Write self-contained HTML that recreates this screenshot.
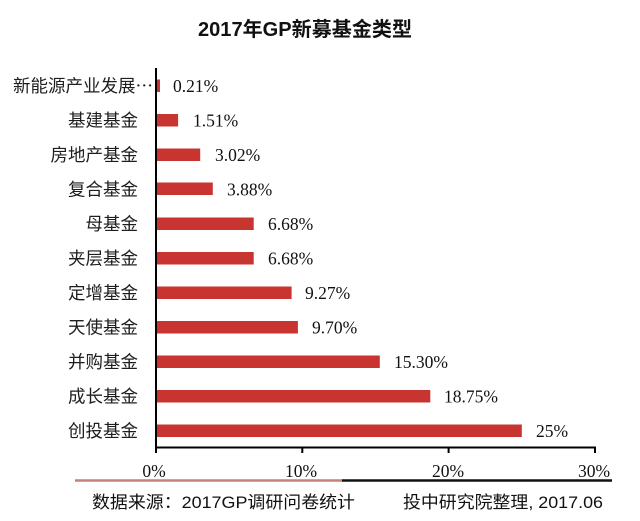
<!DOCTYPE html>
<html>
<head>
<meta charset="utf-8">
<style>
  html, body { margin:0; padding:0; background:#ffffff; }
  svg { display:block; }
  .cat { font-family: "Noto Sans CJK SC", "WenQuanYi Zen Hei", sans-serif; font-size:17.5px; fill:#1e1e1e; }
  .val { font-family: "Liberation Serif", serif; font-size:17.5px; fill:#111; }
  .tick { font-family: "Liberation Serif", serif; font-size:17.5px; fill:#111; }
  .title { font-family: "Liberation Sans", "Noto Sans CJK SC", sans-serif; font-size:20px; font-weight:bold; fill:#111; }
  .foot { font-family: "Liberation Sans", "Noto Sans CJK SC", sans-serif; font-size:17px; fill:#111; }
</style>
</head>
<body>
<svg width="640" height="521" viewBox="0 0 640 521" xmlns="http://www.w3.org/2000/svg">
  <rect x="0" y="0" width="640" height="521" fill="#ffffff"/>

  <!-- Title -->
  <text class="title" x="198" y="36" textLength="214" lengthAdjust="spacingAndGlyphs">2017年GP新募基金类型</text>

  <!-- Bars (scale 14.63 px per %, origin x=156) -->
  <g fill="#c8342f">
    <rect x="157" y="79.5"  width="3"     height="12.5"/>
    <rect x="157" y="114"   width="21.1"  height="12.5"/>
    <rect x="157" y="148.5" width="43.2"  height="12.5"/>
    <rect x="157" y="182.5" width="55.8"  height="12.5"/>
    <rect x="157" y="217.5" width="96.7"  height="12.5"/>
    <rect x="157" y="252"   width="96.7"  height="12.5"/>
    <rect x="157" y="286.5" width="134.6" height="12.5"/>
    <rect x="157" y="321"   width="140.9" height="12.5"/>
    <rect x="157" y="355.5" width="222.8" height="12.5"/>
    <rect x="157" y="390"   width="273.3" height="12.5"/>
    <rect x="157" y="424.5" width="364.8" height="12.5"/>
  </g>

  <!-- Category labels -->
  <text class="cat" x="13" y="92">新能源产业发展<tspan>⋯</tspan></text>
  <text class="cat" x="138" y="126.5" text-anchor="end">基建基金</text>
  <text class="cat" x="138" y="161" text-anchor="end">房地产基金</text>
  <text class="cat" x="138" y="195.5" text-anchor="end">复合基金</text>
  <text class="cat" x="138" y="230" text-anchor="end">母基金</text>
  <text class="cat" x="138" y="264.5" text-anchor="end">夹层基金</text>
  <text class="cat" x="138" y="299" text-anchor="end">定增基金</text>
  <text class="cat" x="138" y="333.5" text-anchor="end">天使基金</text>
  <text class="cat" x="138" y="368" text-anchor="end">并购基金</text>
  <text class="cat" x="138" y="402.5" text-anchor="end">成长基金</text>
  <text class="cat" x="138" y="437" text-anchor="end">创投基金</text>

  <!-- Value labels -->
  <text class="val" x="173"   y="92">0.21%</text>
  <text class="val" x="193"   y="126.5">1.51%</text>
  <text class="val" x="215"   y="161">3.02%</text>
  <text class="val" x="227"   y="195.5">3.88%</text>
  <text class="val" x="268"   y="230">6.68%</text>
  <text class="val" x="268"   y="264.5">6.68%</text>
  <text class="val" x="305"   y="299">9.27%</text>
  <text class="val" x="312"   y="333.5">9.70%</text>
  <text class="val" x="394"   y="368">15.30%</text>
  <text class="val" x="444"   y="402.5">18.75%</text>
  <text class="val" x="536"   y="437">25%</text>

  <!-- Axes -->
  <line x1="156" y1="68" x2="156" y2="449" stroke="#000" stroke-width="2"/>
  <line x1="155" y1="447.5" x2="596" y2="447.5" stroke="#000" stroke-width="2"/>
  <g stroke="#000" stroke-width="2">
    <line x1="156" y1="447" x2="156" y2="453"/>
    <line x1="302.3" y1="447" x2="302.3" y2="453"/>
    <line x1="448.6" y1="447" x2="448.6" y2="453"/>
    <line x1="595" y1="447" x2="595" y2="453"/>
  </g>

  <!-- Tick labels -->
  <text class="tick" x="154" y="477" text-anchor="middle">0%</text>
  <text class="tick" x="301" y="477" text-anchor="middle">10%</text>
  <text class="tick" x="448" y="477" text-anchor="middle">20%</text>
  <text class="tick" x="594" y="477" text-anchor="middle">30%</text>

  <!-- Bottom rule -->
  <line x1="75" y1="480.5" x2="342" y2="480.5" stroke="#c6807b" stroke-width="2.5"/>
  <line x1="342" y1="480.5" x2="612" y2="480.5" stroke="#111" stroke-width="2.5"/>

  <!-- Footer -->
  <text class="foot" x="92" y="508" textLength="263" lengthAdjust="spacingAndGlyphs">数据来源：2017GP调研问卷统计</text>
  <text class="foot" x="403" y="508" textLength="200" lengthAdjust="spacingAndGlyphs">投中研究院整理, 2017.06</text>
</svg>
</body>
</html>
